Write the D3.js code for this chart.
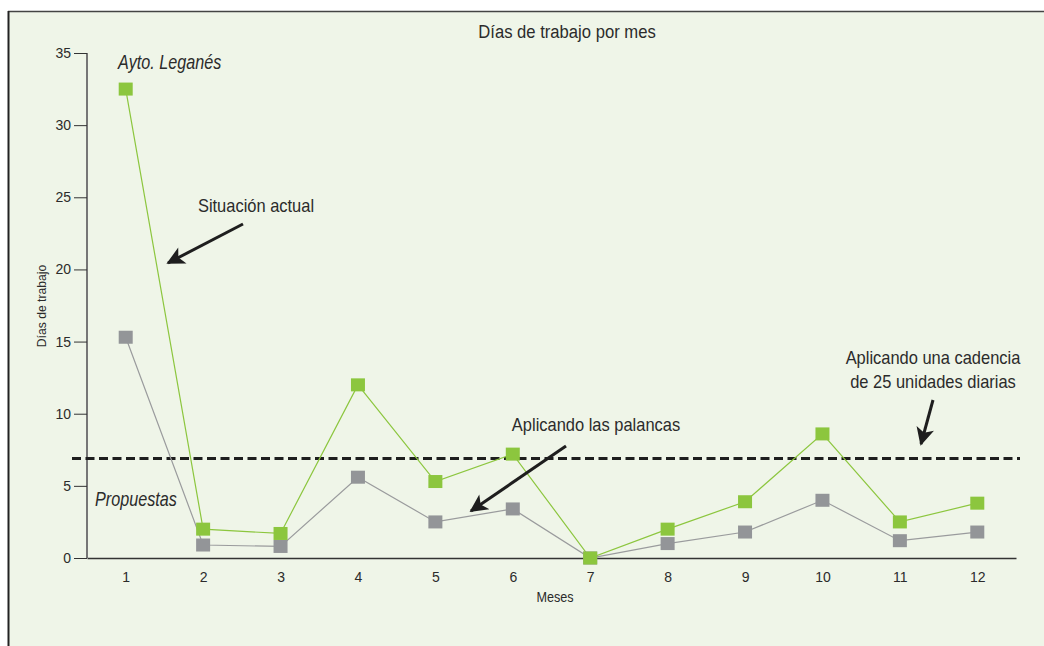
<!DOCTYPE html>
<html lang="es">
<head>
<meta charset="utf-8">
<title>Días de trabajo por mes</title>
<script src="https://cdn.jsdelivr.net/npm/d3@7"></script>
<style>
  html, body { margin: 0; padding: 0; background: #ffffff; }
  svg { display: block; }
  text { font-family: "Liberation Sans", Arial, sans-serif; fill: #2b2b2b; }
</style>
</head>
<body>
<svg id="chart" width="1044" height="646"></svg>
<script>
// Months on the x axis
const meses = [1, 2, 3, 4, 5, 6, 7, 8, 9, 10, 11, 12];
// Current situation (Ayto. Leganés)
const situacionActual = [32.5, 2.0, 1.7, 12.0, 5.3, 7.2, 0.0, 2.0, 3.9, 8.6, 2.5, 3.8];
// Proposal applying the levers
const propuestas = [15.3, 0.9, 0.8, 5.6, 2.5, 3.4, 0.0, 1.0, 1.8, 4.0, 1.2, 1.8];
// Reference level with a rate of 25 units per day
const cadencia = 6.9;
const yTicks = [0, 5, 10, 15, 20, 25, 30, 35];

const svg = d3.select("#chart");
const W = 1044, H = 646;

// Panel background and frame
svg.append("rect").attr("x", 8).attr("y", 11).attr("width", W - 8).attr("height", H - 11)
  .attr("fill", "#eff5e8");
svg.append("line").attr("x1", 8).attr("x2", W).attr("y1", 11.5).attr("y2", 11.5)
  .attr("stroke", "#444").attr("stroke-width", 1.5);
svg.append("line").attr("x1", 8.5).attr("x2", 8.5).attr("y1", 11).attr("y2", H)
  .attr("stroke", "#222").attr("stroke-width", 2);

const x = d3.scaleLinear().domain([0.5, 12.5]).range([87, 1016]);
const y = d3.scaleLinear().domain([0, 35]).range([558, 53]);

// Condensed-looking text: regular sans squeezed horizontally
function label(px, py, str, opts = {}) {
  const size = opts.size || 18, sx = opts.sx || 0.89, rot = opts.rotate || 0;
  const t = svg.append("text")
    .attr("transform", `translate(${px},${py}) rotate(${rot}) scale(${sx},1)`)
    .attr("text-anchor", opts.anchor || "start")
    .style("font-size", size + "px")
    .text(str);
  if (opts.italic) t.style("font-style", "italic");
  return t;
}

// Y axis
const yAxis = svg.append("g").attr("transform", "translate(87,0)")
  .call(d3.axisLeft(y).tickValues(yTicks).tickSize(13).tickPadding(3));
yAxis.select(".domain").attr("stroke", "#767676").attr("stroke-width", 2).attr("d", `M0,${y(35)}V${y(0)}`);
yAxis.selectAll(".tick line").attr("stroke", "#333").attr("stroke-width", 1);
yAxis.selectAll(".tick text").style("font-size", "14px").attr("fill", "#2b2b2b")
  .style("font-family", "'Liberation Sans', Arial, sans-serif");

// X axis
const xAxis = svg.append("g").attr("transform", "translate(0,558)")
  .call(d3.axisBottom(x).tickValues(meses).tickSize(0).tickPadding(14).tickFormat(d3.format("d")));
xAxis.select(".domain").attr("stroke", "#333").attr("stroke-width", 1.5);
xAxis.selectAll(".tick text").style("font-size", "14px").attr("fill", "#2b2b2b")
  .style("font-family", "'Liberation Sans', Arial, sans-serif");

// Titles
label(567, 38, "Días de trabajo por mes", { size: 18.5, sx: 0.9, anchor: "middle" });
label(555, 602, "Meses", { size: 14.5, sx: 0.87, anchor: "middle" });
label(46, 306, "Días de trabajo", { size: 13.5, sx: 0.9, anchor: "middle", rotate: -90 });

// Cadence reference line
svg.append("line").attr("x1", 72).attr("x2", 1020).attr("y1", y(cadencia)).attr("y2", y(cadencia))
  .attr("stroke", "#1e1e1e").attr("stroke-width", 3).attr("stroke-dasharray", "9,4.5");

// Series lines and markers
const series = [
  { values: propuestas, color: "#939598", line: "#9a9b9d" },
  { values: situacionActual, color: "#8cc63e", line: "#8cc63e" }
];
const line = d3.line().x((d, i) => x(meses[i])).y(d => y(d));
series.forEach(s => {
  svg.append("path").datum(s.values).attr("d", line)
    .attr("fill", "none").attr("stroke", s.line).attr("stroke-width", 1.2);
});
series.forEach(s => {
  svg.append("g").selectAll("rect").data(s.values).join("rect")
    .attr("x", (d, i) => x(meses[i]) - 7).attr("y", d => y(d) - 6.5)
    .attr("width", 14).attr("height", 13).attr("fill", s.color);
});

// Annotation arrows
svg.append("defs").append("marker").attr("id", "arrow")
  .attr("viewBox", "0 0 10 10").attr("refX", 9).attr("refY", 5)
  .attr("markerWidth", 8).attr("markerHeight", 6).attr("markerUnits", "strokeWidth")
  .attr("orient", "auto")
  .append("path").attr("d", "M0,0 L10,5 L0,10 L2.5,5 Z").attr("fill", "#1e1e1e");

function arrow(x1, y1, x2, y2) {
  svg.append("line").attr("x1", x1).attr("y1", y1).attr("x2", x2).attr("y2", y2)
    .attr("stroke", "#1e1e1e").attr("stroke-width", 3).attr("marker-end", "url(#arrow)");
}

label(118, 69, "Ayto. Leganés", { size: 19.5, sx: 0.83, italic: true });
label(95, 506, "Propuestas", { size: 19.5, sx: 0.83, italic: true });

label(256, 212, "Situación actual", { size: 18.5, sx: 0.89, anchor: "middle" });
arrow(243, 224, 168, 263);

label(596, 431, "Aplicando las palancas", { size: 18.5, sx: 0.89, anchor: "middle" });
arrow(566, 446, 471, 511);

label(933, 364, "Aplicando una cadencia", { size: 18.5, sx: 0.89, anchor: "middle" });
label(933, 388, "de 25 unidades diarias", { size: 18.5, sx: 0.89, anchor: "middle" });
arrow(933, 400, 921, 444);
</script>
</body>
</html>
